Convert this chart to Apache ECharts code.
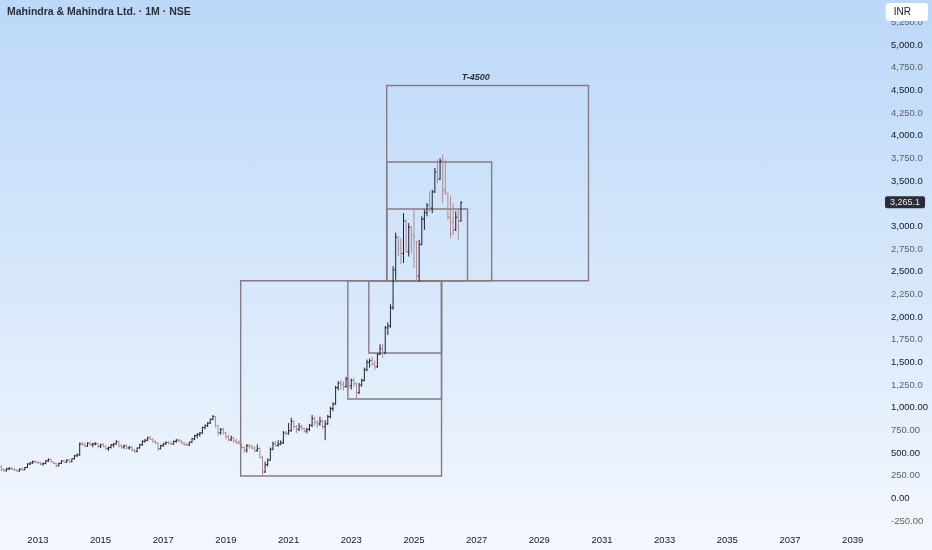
<!DOCTYPE html>
<html><head><meta charset="utf-8">
<script src="https://cdn.jsdelivr.net/npm/echarts@6/dist/echarts.min.js"></script>
<style>
html,body{margin:0;padding:0;width:932px;height:550px;overflow:hidden;
background:linear-gradient(to bottom,#bcd8f8 0%,#d6e7fb 50%,#f5f8fe 100%);}
#c{width:932px;height:550px;}
</style></head><body><div id="c"></div>
<script>
// Monthly bars starting Nov 2011
const startYear = 2011, startMonth = 11;
const opens = [
  345,315,
  305,325,330,318,310,300,322,315,340,378,390,405,
  395,392,378,385,412,428,402,385,360,385,412,398,
  420,402,435,468,478,600,592,575,608,590,598,602,
  572,590,570,548,560,588,600,625,578,566,582,555,
  565,530,515,555,590,628,640,665,650,625,610,548,
  580,600,615,605,598,628,640,632,610,592,588,618,
  655,690,705,720,780,800,830,870,900,800,725,760,
  720,680,645,668,632,615,605,560,528,580,568,552,
  528,548,452,290,370,420,540,600,582,598,612,722,
  715,745,850,790,760,790,770,740,760,805,880,838,
  820,850,790,820,900,990,1040,1220,1270,1258,1232,1318,
  1240,1300,1262,1165,1250,1300,1418,1500,1520,1480,1450,1590,
  1650,1600,1880,1900,2100,2520,2880,2760,2700,3060,2720,2990,
  2900,2830,2450,2800,3080,3150,3230,3200,3380,3600,3520,3720,
  3400,3360,3100,3050,2960,3100,3060
];
const highs = [
  365,330,
  335,345,345,335,320,330,340,345,385,400,415,418,
  412,400,392,420,440,435,410,392,392,420,425,430,
  432,440,478,495,615,628,612,618,622,610,618,610,
  600,610,582,570,598,608,640,635,598,590,592,575,
  575,545,560,600,640,655,680,690,665,640,615,590,
  612,628,632,625,635,655,660,645,622,612,625,665,
  700,720,730,790,815,840,880,918,905,810,775,778,
  735,700,690,672,660,640,612,572,598,600,590,575,
  595,560,468,405,440,560,625,632,640,640,742,742,
  830,890,860,808,830,810,780,780,822,918,900,860,
  900,870,862,920,1010,1060,1240,1292,1305,1290,1340,1330,
  1320,1330,1280,1272,1320,1440,1530,1540,1560,1520,1600,1700,
  1700,1900,1940,2140,2560,2930,2890,2870,3146,3075,3035,3000,
  3182,2840,2850,3110,3182,3256,3385,3403,3643,3735,3750,3790,
  3735,3370,3330,3256,3165,3182,3275
];
const lows = [
  300,290,
  295,310,310,300,285,295,305,310,335,365,380,385,
  380,365,360,375,400,395,378,338,350,378,390,392,
  392,398,428,455,470,575,560,568,578,562,585,558,
  552,562,530,522,548,562,590,560,548,545,540,538,
  518,500,510,548,580,612,630,640,612,598,518,538,
  568,588,595,585,590,612,618,598,580,575,580,610,
  640,660,680,712,760,785,820,860,780,690,700,705,
  650,625,630,610,598,595,545,500,505,545,540,505,
  512,440,245,280,350,415,530,570,570,585,600,690,
  700,735,760,720,740,750,725,715,740,785,800,780,
  800,760,640,810,880,960,1030,1190,1195,1188,1220,1210,
  1200,1230,1100,1150,1230,1290,1400,1440,1460,1415,1440,1580,
  1550,1590,1800,1880,2080,2410,2670,2580,2595,2710,2666,2700,
  2540,2395,2390,2790,2960,3109,3160,3146,3367,3477,3515,3256,
  3350,3072,2870,2900,2950,2851,3050
];
const closes = [
  315,305,
  325,330,318,310,300,322,315,340,378,390,405,395,
  392,378,385,412,428,402,385,360,385,412,398,420,
  402,435,468,478,600,592,575,608,590,598,602,572,
  590,570,548,560,588,600,625,578,566,582,555,565,
  530,515,555,590,628,640,665,650,625,610,548,580,
  600,615,605,598,628,640,632,610,592,588,618,655,
  690,705,720,780,800,830,870,900,800,725,760,720,
  680,645,668,632,615,605,560,528,580,568,552,528,
  548,452,290,370,420,540,600,582,598,612,722,715,
  745,850,790,760,790,770,740,760,805,880,838,820,
  850,790,820,900,990,1040,1220,1270,1258,1232,1318,1240,
  1300,1262,1165,1250,1300,1418,1500,1520,1480,1450,1590,1650,
  1600,1880,1900,2100,2520,2880,2760,2700,3060,2720,2990,2900,
  2880,2450,2800,3080,3150,3230,3200,3380,3600,3520,3720,3400,
  3380,3100,2920,2960,3100,3060,3265.1
];
// drawn rectangles: [x1(year), y1(price), x2(year), y2(price)]
const boxes = [
  [2019.47, 246, 2025.88, 2400],
  [2022.89, 1095, 2025.88, 2400],
  [2023.56, 1602, 2025.88, 2400],
  [2024.13, 2400, 2030.57, 4553],
  [2024.13, 2400, 2027.48, 3709],
  [2024.13, 2400, 2026.71, 3190]
];
const boxLabel = { text: 'T-4500', x: 2026.97, y: 4636 };
const xTicks = [2013,2015,2017,2019,2021,2023,2025,2027,2029,2031,2033,2035,2037,2039];
const yTicks = [-250,0,250,500,750,1000,1250,1500,1750,2000,2250,2500,2750,3000,3500,3750,4000,4250,4500,4750,5000,5250];
const lastPrice = 3265.1;
const titleText = 'Mahindra & Mahindra Ltd. · 1M · NSE';

const UP = '#1e222d', DOWN = '#b08a95', BOX = '#857c83';
const FONT = '"Liberation Sans", Arial, sans-serif';
const Y_MIN = -350, Y_MAX = 5496;

const ohlc = opens.map((o, i) => [startYear + (startMonth - 1 + i) / 12, o, highs[i], lows[i], closes[i]]);

function fmtPrice(v) {
  const d = Math.abs(v) > 1000 ? 1 : 2;
  return v.toLocaleString('en-US', { minimumFractionDigits: d, maximumFractionDigits: d });
}

function renderBar(params, api) {
  const x = api.value(0), o = api.value(1), h = api.value(2), l = api.value(3), c = api.value(4);
  const pH = api.coord([x, h]), pL = api.coord([x, l]), pO = api.coord([x, o]), pC = api.coord([x, c]);
  const w = api.size([1 / 12, 0])[0] * 0.5;
  const style = { stroke: c >= o ? UP : DOWN, lineWidth: 1 };
  return { type: 'group', children: [
    { type: 'line', shape: { x1: pH[0], y1: pH[1], x2: pL[0], y2: pL[1] }, style },
    { type: 'line', shape: { x1: pO[0] - w, y1: pO[1], x2: pO[0], y2: pO[1] }, style },
    { type: 'line', shape: { x1: pC[0], y1: pC[1], x2: pC[0] + w, y2: pC[1] }, style }
  ]};
}
function renderBox(params, api) {
  const a = api.coord([api.value(0), api.value(1)]);
  const b = api.coord([api.value(2), api.value(3)]);
  return { type: 'rect',
    shape: { x: Math.min(a[0], b[0]), y: Math.min(a[1], b[1]), width: Math.abs(b[0] - a[0]), height: Math.abs(b[1] - a[1]) },
    style: { fill: 'none', stroke: BOX, lineWidth: 1.4 } };
}
function renderLabel(params, api) {
  const p = api.coord([api.value(0), api.value(1)]);
  return { type: 'text', x: p[0], y: p[1],
    style: { text: boxLabel.text, fill: '#2a2e39', font: 'italic 600 9px ' + FONT, align: 'center', verticalAlign: 'middle' } };
}

const chart = echarts.init(document.getElementById('c'), null, { renderer: 'canvas' });
chart.setOption({
  animation: false,
  backgroundColor: 'transparent',
  title: [
    { text: titleText, left: 7, top: 7, padding: 0,
      textStyle: { fontFamily: FONT, fontSize: 10.5, fontWeight: 'bold', color: '#2a2e39' } },
    { text: 'INR', right: 4, top: 3, backgroundColor: '#ffffff', borderRadius: 3, padding: [4, 17, 4, 8],
      textStyle: { fontFamily: FONT, fontSize: 10, fontWeight: 'normal', color: '#131722' }, z: 10 }
  ],
  grid: { left: 0, right: 48, top: 0, bottom: 20, containLabel: false, outerBoundsMode: 'none' },
  xAxis: {
    type: 'value', min: 2011.79, max: 2040.0,
    axisLine: { show: false }, axisTick: { show: false }, splitLine: { show: false },
    axisLabel: { customValues: xTicks, formatter: v => String(v), margin: 5,
      fontFamily: FONT, fontSize: 9.5, color: '#131722' }
  },
  yAxis: [{
    type: 'value', position: 'right', min: Y_MIN, max: Y_MAX,
    axisLine: { show: false }, axisTick: { show: false }, splitLine: { show: false },
    axisLabel: { customValues: yTicks, margin: 7, align: 'left',
      formatter: v => (v % 500 === 0 ? '{d|' : '{l|') + fmtPrice(v) + '}',
      rich: {
        d: { fontFamily: FONT, fontSize: 9.5, color: '#131722' },
        l: { fontFamily: FONT, fontSize: 9.5, color: '#5d606b' }
      } }
  }, {
    type: 'value', position: 'right', min: Y_MIN, max: Y_MAX,
    axisLine: { show: false }, axisTick: { show: false }, splitLine: { show: false },
    axisLabel: { customValues: [lastPrice], margin: 1, align: 'left',
      formatter: v => fmtPrice(v),
      backgroundColor: '#2a2e39', color: '#e8e8e8', padding: [2, 5, 1, 5], borderRadius: 2,
      fontFamily: FONT, fontSize: 9 }
  }],
  series: [
    { type: 'custom', name: 'boxes', renderItem: renderBox, data: boxes, silent: true, z: 1 },
    { type: 'custom', name: 'ohlc', renderItem: renderBar, data: ohlc, silent: true, z: 2 },
    { type: 'custom', name: 'label', renderItem: renderLabel, data: [[boxLabel.x, boxLabel.y]], silent: true, z: 3 }
  ]
});
</script></body></html>
